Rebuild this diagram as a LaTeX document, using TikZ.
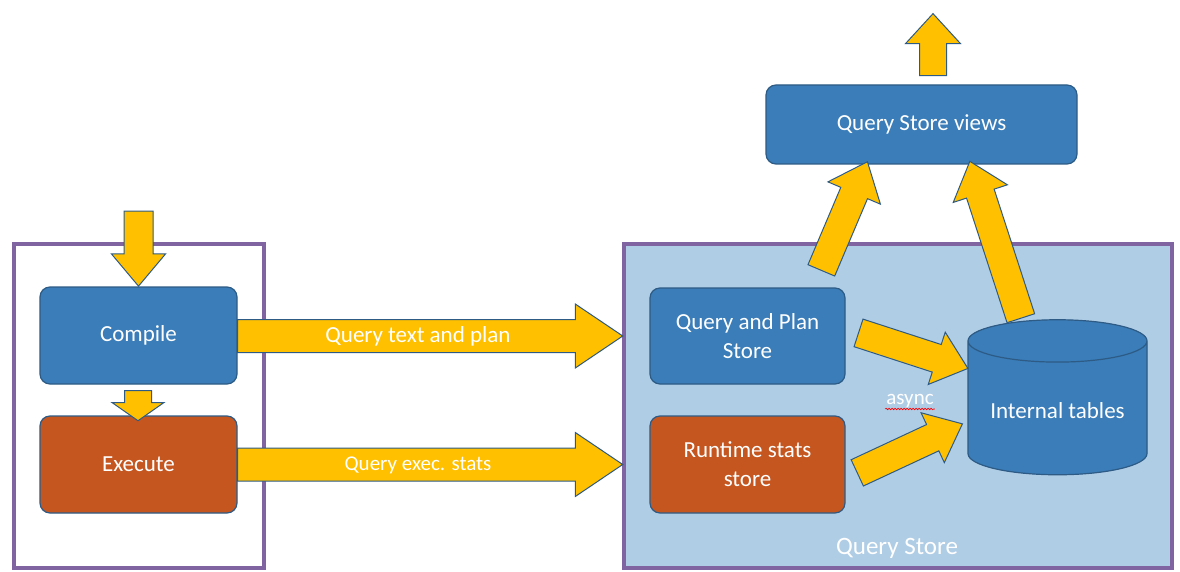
\documentclass[tikz,border=0pt]{standalone}
\usepackage{fontspec}
\setmainfont{Carlito}
\usetikzlibrary{shapes.arrows, shapes.geometric, decorations.pathmorphing}

\definecolor{qblue}{HTML}{3A7DB9}
\definecolor{qedge}{HTML}{2D5B85}
\definecolor{qorange}{HTML}{C5561F}
\definecolor{qyellow}{HTML}{FFC000}
\definecolor{qpurple}{HTML}{8064A2}
\definecolor{qback}{HTML}{B0CDE6}

\tikzset{
  box/.style={draw=qedge, line width=1.2pt, rounded corners=10pt, text=white,
    align=center, font=\fontsize{23}{29}\selectfont},
  fat/.style={single arrow, draw=qedge, fill=qyellow, line width=1pt, inner xsep=0pt,
    single arrow head indent=0pt},
  frame/.style={draw=qpurple, line width=3.5pt}
}

\begin{document}
\begin{tikzpicture}[x=1pt, y=-1pt]
\useasboundingbox (0,0) rectangle (1180,572);

% frames
\path (12,242) node[frame, anchor=north west, minimum width=250pt, minimum height=324pt] (client) {};
\path (622,242) node[frame, fill=qback, anchor=north west, minimum width=548pt, minimum height=324pt] (qs) {};
\node[text=white, font=\fontsize{25}{30}\selectfont] (qslabel) at (897,548) {Query Store};

% boxes
\path (138.5,335.5) node[box, fill=qblue, minimum width=197pt, minimum height=97pt] (compile) {Compile}
      (138.5,464.5) node[box, fill=qorange, minimum width=197pt, minimum height=97pt] (execute) {Execute}
      (747.5,336) node[box, fill=qblue, minimum width=195pt, minimum height=96pt] (qpstore) {Query and Plan\\Store}
      (747.5,464.5) node[box, fill=qorange, minimum width=195pt, minimum height=97pt] (rtstore) {Runtime stats\\store}
      (921.5,124.5) node[box, fill=qblue, minimum width=311pt, minimum height=79pt] (views) {Query Store views};

\node[cylinder, shape border rotate=90, draw=qedge, line width=1.2pt, fill=qblue,
  cylinder uses custom fill, cylinder body fill=qblue, cylinder end fill=qblue!70!white,
  aspect=0.3, minimum width=179pt, minimum height=155pt, text=white,
  font=\fontsize{23}{29}\selectfont] (tables) at (1057.5,411) {Internal tables};

% fat arrows
\node[fat, rotate=-90, inner ysep=14pt, minimum height=75pt, single arrow head extend=12.5pt,
  single arrow tip angle=80] (inarrow) at (138.5,240) {};
\node[fat, rotate=-90, inner ysep=13pt, minimum height=30pt, single arrow head extend=12.5pt,
  single arrow tip angle=110] (steparrow) at (138,401) {};
\node[fat, rotate=90, inner ysep=13pt, minimum height=62pt, single arrow head extend=14pt,
  single arrow tip angle=85] (outarrow) at (933,52) {};
\node[fat, inner ysep=16pt, minimum height=385pt, single arrow head extend=15.5pt,
  single arrow tip angle=68] (planarrow) at (418,336) {};
\node[fat, inner ysep=16pt, minimum height=385pt, single arrow head extend=15.5pt,
  single arrow tip angle=68] (statsarrow) at (418,464.5) {};
\node[fat, rotate=-18, inner ysep=14pt, minimum height=115pt, single arrow head extend=13pt,
  single arrow tip angle=80] (qparrow) at (905,348) {};
\node[fat, rotate=25, inner ysep=14pt, minimum height=116pt, single arrow head extend=13pt,
  single arrow tip angle=80] (rtarrow) at (902,452) {};
\node[fat, rotate=67, inner ysep=14pt, minimum height=118pt, single arrow head extend=14pt,
  single arrow tip angle=80] (qsarrow) at (841,224) {};
\node[fat, rotate=108, inner ysep=14pt, minimum height=165pt, single arrow head extend=14pt,
  single arrow tip angle=80] (tabarrow) at (998,248) {};

% labels
\node[text=white, font=\fontsize{23}{29}\selectfont] (plantext) at (418,336) {Query text and plan};
\node[text=white, font=\fontsize{21}{26}\selectfont] (statstext) at (418,465) {Query exec. stats};
\node[text=white, font=\fontsize{21}{26}\selectfont, inner sep=1pt] (async) at (910,401) {async};
\draw[red, line width=0.6pt, decorate, decoration={snake, amplitude=0.8pt, segment length=3pt}]
  (async.south west) -- (async.south east);

\end{tikzpicture}
\end{document}
